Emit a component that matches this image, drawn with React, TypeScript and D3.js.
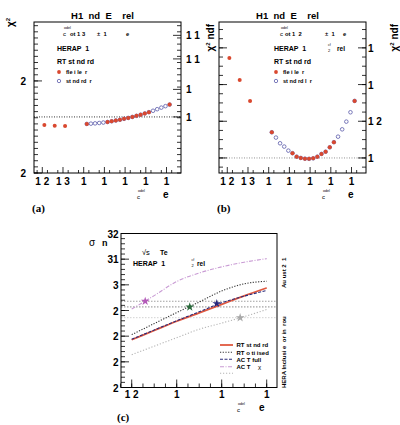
import React, { useRef, useEffect } from "react";
import * as d3 from "d3";

// (a) and (b) share the scanned model-parameter grid
const paramTicks = [0, 1, 2, 3, 4, 5, 6];
const paramTickLabels = ["1 2", "1 3", "1", "1", "1", "1", "1"];
const paramFlex = [0.1, 0.6, 1.1, 2.15, 3.15, 3.35, 3.55, 3.75, 3.95, 4.15, 4.35, 4.55, 4.75, 4.95, 5.15, 6.15];
const paramStd = [2.15, 2.35, 2.55, 2.75, 2.95, 3.15, 3.35, 3.55, 3.75, 3.95, 4.15, 4.35, 4.55, 4.75, 4.95, 5.15, 5.35, 5.55, 5.75, 5.95, 6.15];

// (a) chi2
const chi2Flex = [2252.2, 2251.4, 2251.1, 2253.3, 2255.4, 2256.2, 2257.0, 2257.8, 2258.8, 2259.8, 2260.9, 2262.1, 2263.3, 2264.7, 2266.1, 2274.3];
const chi2Std = [2253.3, 2253.6, 2253.9, 2254.3, 2254.8, 2255.4, 2256.2, 2257.0, 2257.8, 2258.8, 2259.8, 2260.9, 2262.1, 2263.3, 2264.7, 2266.1, 2267.6, 2269.3, 2271.0, 2272.6, 2274.3];
const chi2Ticks = [2200, 2300];
const chi2TickLabels = ["2", "2"];
const chi2NdfTicks = [2260.9, 2290.8, 2323.9, 2349.5];
const chi2NdfTickLabels = ["1", "1", "1 1", "1 1"];
const chi2Ref = 2260.9;

// (b) chi2/ndf
const ndfFlex = [1.0545, 1.0425, 1.0311, 1.014, 1.0026, 1.0007, 1.0, 0.9996, 0.9995, 0.9998, 1.0007, 1.0022, 1.0034, 1.0058, 1.0086, 1.0311];
const ndfStd = [1.014, 1.0111, 1.008, 1.0062, 1.004, 1.0026, 1.0007, 1.0, 0.9996, 0.9995, 0.9998, 1.0007, 1.0022, 1.0034, 1.0058, 1.0086, 1.0116, 1.0156, 1.0198, 1.0249, 1.0311];
const ndfTicks = [1.0, 1.02, 1.04, 1.06];
const ndfTickLabels = ["1", "1 2", "1", "1"];
const ndfRef = 1.0;

// (c) cross section vs parameter
const cParam = [0, 0.5, 1, 1.5, 2, 2.5, 3];
const sigmaRtStd = [278.6, 282.2, 285.8, 289.1, 292.4, 295.7, 298.8];
const sigmaRtOpt = [280.6, 284.9, 289.2, 293.3, 297.6, 300.4, 301.4];
const sigmaAcotFull = [278.8, 282.4, 286.0, 289.5, 293.0, 295.6, 297.8];
const sigmaAcotChi = [290.6, 295.8, 301.3, 304.6, 307.0, 308.8, 310.2];
const sigmaOther = [272.8, 276.1, 279.4, 282.7, 285.1, 287.6, 290.4];
const cTicks = [0, 1, 2, 3];
const cTickLabels = ["1 2", "1", "1", "1"];
const sigmaTicks = [260, 270, 280, 290, 300, 310, 320];
const sigmaTickLabels = ["2", "2", "2", "2", "3", "31", "32"];
const sigmaMeas = [293.6, 291.4, 287.2];
const starParam = [0.3, 1.29, 1.89, 2.41];
const starSigma = [293.6, 291.4, 292.7, 287.2];
const legendNames = ["RT st nd rd", "RT o ti ised", "AC T full", "AC T", ""];

const FONT = "'Liberation Sans', Arial, sans-serif";
const SERIF = "'Liberation Serif', 'Times New Roman', serif";

export default function App() {
  const svgRef = useRef<SVGSVGElement>(null);

  useEffect(() => {
    const svg = d3.select(svgRef.current);
    svg.selectAll("*").remove();

    const txt = (x: number, y: number, s: string, size: number, bold = true, anchor = "start", rot = 0, fam = FONT) => {
      const t = svg.append("text")
        .attr("font-family", fam)
        .attr("font-size", size)
        .attr("font-weight", bold ? "bold" : "normal")
        .attr("text-anchor", anchor)
        .style("white-space", "pre")
        .text(s);
      if (rot) t.attr("transform", `translate(${x},${y}) rotate(${rot})`);
      else t.attr("x", x).attr("y", y);
      return t;
    };

    // inward tick marks on one side of a frame
    const ticks = (side: string, scale: any, values: number[], pos: number, size: number) => {
      svg.append("g").selectAll("line").data(values).join("line")
        .attr("x1", d => (side === "l" || side === "r") ? pos : scale(d))
        .attr("x2", d => side === "l" ? pos + size : side === "r" ? pos - size : scale(d))
        .attr("y1", d => (side === "b") ? pos : scale(d))
        .attr("y2", d => side === "b" ? pos - size : scale(d))
        .attr("stroke", "#000").attr("stroke-width", 0.8);
    };

    const frame = (x0: number, y0: number, x1: number, y1: number) =>
      svg.append("rect").attr("x", x0).attr("y", y0).attr("width", x1 - x0).attr("height", y1 - y0)
        .attr("fill", "none").attr("stroke", "#000").attr("stroke-width", 1);

    const chiLabel = (x: number, y: number, withNdf: boolean) => {
      const t = txt(x, y, "", 10, true, "end", -90);
      t.append("tspan").text("χ");
      t.append("tspan").attr("font-size", 6).attr("dy", -4).text("2");
      if (withNdf) t.append("tspan").attr("dy", 4).text(" ndf");
    };

    const odel = (x: number, y: number) => {
      txt(x + 1, y - 7, "odel", 3.6, false);
      txt(x, y, "c", 6, false);
    };

    // ---------- panels (a) and (b) ----------
    const top = 22, bot = 173;
    const panels = [
      { x0: 34, x1: 181, lx: 57, key: "a" },
      { x0: 219, x1: 366, lx: 274, key: "b" },
    ];
    panels.forEach(p => {
      const x = d3.scaleLinear().domain([-0.4, 6.7]).range([p.x0, p.x1]);
      const y = p.key === "a"
        ? d3.scaleLinear().domain([2200, 2364]).range([bot, top])
        : d3.scaleLinear().domain([0.9918, 1.0741]).range([bot, top]);
      const flex = p.key === "a" ? chi2Flex : ndfFlex;
      const std = p.key === "a" ? chi2Std : ndfStd;

      // reference line
      const ref = p.key === "a" ? chi2Ref : ndfRef;
      svg.append("line").attr("x1", p.x0).attr("x2", p.x1).attr("y1", y(ref)).attr("y2", y(ref))
        .attr("stroke", p.key === "a" ? "#000" : "#777").attr("stroke-width", 0.8).attr("stroke-dasharray", "1,1.5");

      frame(p.x0, top, p.x1, bot);

      // x ticks
      ticks("b", x, paramTicks, bot, 6);
      ticks("b", x, d3.range(-0.25, 6.7, 0.5), bot, 3);
      svg.append("g").selectAll("text").data(paramTicks).join("text")
        .attr("x", d => x(d)).attr("y", 185).attr("text-anchor", "middle")
        .attr("font-family", FONT).attr("font-size", 10).attr("font-weight", "bold")
        .style("white-space", "pre")
        .text((d, i) => paramTickLabels[i]);

      if (p.key === "a") {
        ticks("l", y, d3.range(2200, 2364, 100 / 15), p.x0, 4);
        ticks("l", y, chi2Ticks, p.x0, 8);
        svg.append("g").selectAll("text").data(chi2Ticks).join("text")
          .attr("x", 26).attr("y", d => y(d) + 4).attr("text-anchor", "end")
          .attr("font-family", FONT).attr("font-size", 10).attr("font-weight", "bold")
          .text((d, i) => chi2TickLabels[i]);
        ticks("r", y, d3.range(2200, 2364, 100 / 15), p.x1, 4);
        ticks("r", y, chi2NdfTicks, p.x1, 8);
        svg.append("g").selectAll("text").data(chi2NdfTicks).join("text")
          .attr("x", p.x1 + 5).attr("y", d => y(d) + 4)
          .attr("font-family", FONT).attr("font-size", 10).attr("font-weight", "bold")
          .style("white-space", "pre")
          .text((d, i) => chi2NdfTickLabels[i]);
      } else {
        ticks("l", y, d3.range(0.995, 1.074, 0.005), p.x0, 4);
        ticks("l", y, ndfTicks, p.x0, 8);
        ticks("r", y, d3.range(0.995, 1.074, 0.005), p.x1, 4);
        ticks("r", y, ndfTicks, p.x1, 8);
        svg.append("g").selectAll("text").data(ndfTicks).join("text")
          .attr("x", p.x1 + 2).attr("y", d => y(d) + 4)
          .attr("font-family", FONT).attr("font-size", 10).attr("font-weight", "bold")
          .style("white-space", "pre")
          .text((d, i) => ndfTickLabels[i]);
      }

      // points: standard (open blue) below, flexible (red) on top
      svg.append("g").selectAll("circle").data(std).join("circle")
        .attr("cx", (d, i) => x(paramStd[i])).attr("cy", d => y(d)).attr("r", 1.8)
        .attr("fill", "none").attr("stroke", "#5a5aaa").attr("stroke-width", 0.8);
      svg.append("g").selectAll("circle").data(flex).join("circle")
        .attr("cx", (d, i) => x(paramFlex[i])).attr("cy", d => y(d)).attr("r", 2.0)
        .attr("fill", "#d9482f");

      // title
      const tx = (p.x0 + p.x1) / 2 - 5;
      txt(tx, 19, "H1  nd  E    rel", 9.5, true, "middle");

      // legend
      const lx = p.lx;
      odel(lx + 6, 36);
      if (p.key === "a") {
        txt(lx + 13, 36, "ot 1 3", 5.8);
        txt(lx + 40, 36, "±  1", 5.8);
        txt(lx + 69, 36, "e", 5.8);
      } else {
        txt(lx + 11, 36, "ot 1  2", 5.8);
        txt(lx + 51, 36, "±  1", 5.8);
        txt(lx + 69, 36, "e", 5.8);
        txt(lx + 54, 46, "cf", 3.4, false);
        txt(lx + 54, 52, "2", 4, false);
        txt(lx + 63, 50.5, "rel", 6.5);
      }
      txt(lx, 50.5, "HERAP  1", 7);
      txt(lx, 63.5, "RT st nd rd", 7);
      svg.append("circle").attr("cx", lx + 2).attr("cy", 72).attr("r", 1.9).attr("fill", "#d9482f");
      txt(lx + 9, 74, "fle i le  r", 5.6);
      svg.append("circle").attr("cx", lx + 2).attr("cy", 81).attr("r", 1.7)
        .attr("fill", "none").attr("stroke", "#5a5aaa").attr("stroke-width", 0.8);
      txt(lx + 9, 83, p.key === "a" ? "st nd rd  r" : "st nd rd l  r", 5.6);

      // axis titles
      odel(p.key === "a" ? 137 : 322, 199);
      txt(p.key === "a" ? 163 : 348, 198, "e", 10);
      txt(p.key === "a" ? 32 : 217, 212, p.key === "a" ? "(a)" : "(b)", 11, true, "start", 0, SERIF);
    });

    chiLabel(14, 18, false);
    chiLabel(214, 24, true);
    chiLabel(398, 24, true);

    // ---------- panel (c) ----------
    const cx0 = 121, cx1 = 277, cy0 = 233.5, cy1 = 387.5;
    const xC = d3.scaleLinear().domain([-0.238, 3.229]).range([cx0, cx1]);
    const yC = d3.scaleLinear().domain([260, 320]).range([cy1, cy0]);

    const measColors = ["#8a8a8a", "#6e6e6e", "#c8c8c8"];
    svg.append("g").selectAll("line").data(sigmaMeas).join("line")
      .attr("x1", cx0).attr("x2", cx1).attr("y1", d => yC(d)).attr("y2", d => yC(d))
      .attr("stroke", (d, i) => measColors[i]).attr("stroke-width", 0.8).attr("stroke-dasharray", "1.5,1.5");

    const curves = [
      { v: sigmaOther, color: "#b5b5b5", w: 1.1, dash: "1.2,1.8" },
      { v: sigmaAcotChi, color: "#c99bd4", w: 1.1, dash: "4,1.5,1,1.5" },
      { v: sigmaRtOpt, color: "#333333", w: 1.1, dash: "1.2,1.5" },
      { v: sigmaRtStd, color: "#e0583f", w: 1.8, dash: "" },
      { v: sigmaAcotFull, color: "#2b2b7a", w: 1.1, dash: "3,1.5" },
    ];
    const lineC = d3.line<number>().x((d, i) => xC(cParam[i])).y(d => yC(d)).curve(d3.curveMonotoneX);
    svg.append("g").selectAll("path").data(curves).join("path")
      .attr("d", d => lineC(d.v))
      .attr("fill", "none").attr("stroke", d => d.color).attr("stroke-width", d => d.w)
      .attr("stroke-dasharray", d => d.dash);

    const starColors = ["#b35ab8", "#2b6a3c", "#27277c", "#a8a8a8"];
    svg.append("g").selectAll("path").data(starSigma).join("path")
      .attr("d", d3.symbol().type(d3.symbolStar).size(24))
      .attr("transform", (d, i) => `translate(${xC(starParam[i])},${yC(d)})`)
      .attr("fill", (d, i) => starColors[i]);

    frame(cx0, cy0, cx1, cy1);
    ticks("l", yC, d3.range(260, 320.1, 2), cx0, 4);
    ticks("l", yC, sigmaTicks, cx0, 8);
    ticks("b", xC, d3.range(-0.25, 3.23, 0.25), cy1, 4);
    ticks("b", xC, cTicks, cy1, 8);
    svg.append("g").selectAll("text").data(sigmaTicks).join("text")
      .attr("x", 118.5).attr("y", d => yC(d) + 4).attr("text-anchor", "end")
      .attr("font-family", FONT).attr("font-size", 10).attr("font-weight", "bold")
      .text((d, i) => sigmaTickLabels[i]);
    svg.append("g").selectAll("text").data(cTicks).join("text")
      .attr("x", d => xC(d)).attr("y", 398).attr("text-anchor", "middle")
      .attr("font-family", FONT).attr("font-size", 10).attr("font-weight", "bold")
      .style("white-space", "pre")
      .text((d, i) => cTickLabels[i]);

    // legend
    const legY = [345, 352.3, 359.3, 366.7, 373.3];
    const legCurves = [curves[3], curves[2], curves[4], curves[1], curves[0]];
    legCurves.forEach((c, i) => {
      svg.append("line").attr("x1", 220).attr("x2", 233).attr("y1", legY[i]).attr("y2", legY[i])
        .attr("stroke", c.color).attr("stroke-width", c.w).attr("stroke-dasharray", c.dash);
      if (legendNames[i]) txt(236.5, legY[i] + 2.2, legendNames[i], 6);
    });
    txt(258, legY[3] + 2.2, "χ", 6, false);

    // annotations
    txt(142, 255, "√s", 7.5, false);
    txt(160, 254.5, "Te", 7);
    txt(133, 266, "HERAP  1", 7);
    txt(191.5, 261, "cf", 3.4, false);
    txt(191.5, 267, "2", 4, false);
    txt(197, 266, "rel", 6.5);
    txt(285.5, 388, "HERA Inclusi e  or in  rou", 6, true, "start", -90);
    txt(285.5, 288, "Au ust 2  1", 6, true, "start", -90);
    txt(89, 246, "σ", 10, false);
    txt(102, 246, "n", 9);
    odel(237, 412);
    txt(259, 411, "e", 10);
    txt(117, 421, "(c)", 11, true, "start", 0, SERIF);
  }, []);

  return (
    <svg ref={svgRef} width={400} height={425}
      style={{ position: "absolute", left: 0, top: 0, background: "#fff" }} />
  );
}
